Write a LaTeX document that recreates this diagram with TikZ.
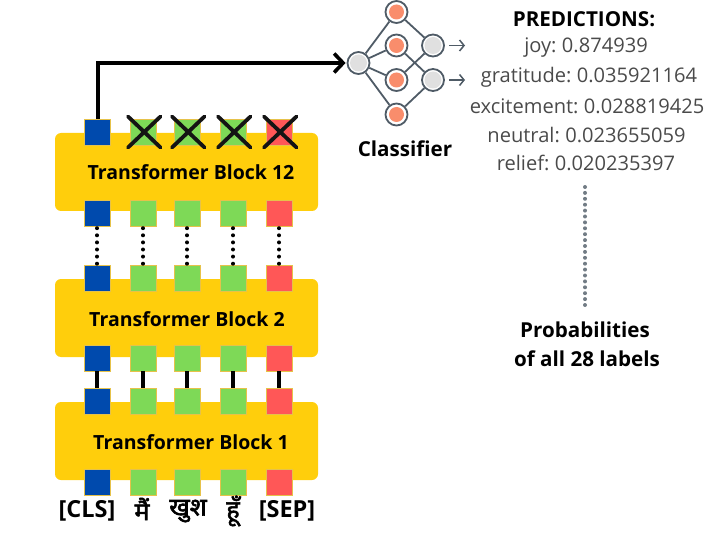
\documentclass[tikz,border=0pt]{standalone}
\usepackage{fontspec}
\setmainfont{Open Sans}
\newfontfamily\devafont[Script=Devanagari,FakeBold=2.2]{Noto Sans}
\newfontfamily\predfont[WordSpace=0.7]{Open Sans}
\usetikzlibrary{arrows.meta,calc}
\definecolor{blk}{HTML}{FFCE0C}
\definecolor{sqblue}{HTML}{004AAD}
\definecolor{sqgreen}{HTML}{7ED957}
\definecolor{sqred}{HTML}{FF5757}
\definecolor{sqedge}{HTML}{E6C24A}
\definecolor{net}{HTML}{4F5B66}
\definecolor{netorange}{HTML}{F98D6C}
\definecolor{netgray}{HTML}{E0E0E0}
\definecolor{txtgray}{HTML}{4A4A4A}
\tikzset{
  x=1pt,y=-1pt,
  blockbox/.style={fill=blk,rounded corners=6pt,minimum width=263pt,minimum height=78pt,inner sep=0pt,anchor=center},
  blocklabel/.style={font=\bfseries\fontsize{19.5}{22}\selectfont,text=black,inner sep=0pt},
  sq/.style={minimum size=26pt,inner sep=0pt,draw=sqedge,line width=.4pt},
  sqb/.style={sq,fill=sqblue},
  sqg/.style={sq,fill=sqgreen},
  sqr/.style={sq,fill=sqred},
  solidlink/.style={draw=black,line width=3.2pt},
  dotlink/.style={draw=black,line width=4pt,line cap=round,dash pattern=on 0pt off 7.1pt},
  crossline/.style={draw=black!92,line width=3.8pt,line cap=round},
  mainarrow/.style={draw=black,line width=3.6pt,-{Straight Barb[length=9pt,width=19pt,line width=3.6pt]}},
  netedge/.style={draw=net,line width=1.8pt},
  netnodeo/.style={circle,draw=net,line width=1.8pt,fill=white,minimum size=22pt,inner sep=0pt,path picture={\fill[netorange] (path picture bounding box.center) circle[radius=7.5pt];}},
  netnodeg/.style={circle,draw=net,line width=1.8pt,fill=white,minimum size=22pt,inner sep=0pt,path picture={\fill[netgray] (path picture bounding box.center) circle[radius=8.5pt];}},
  netout/.style={draw=net,line width=1.5pt,-{Straight Barb[length=4.5pt,width=11pt,line width=1.5pt]}},
  predtext/.style={font=\predfont\fontsize{20.1}{22}\selectfont,text=txtgray,inner sep=0pt},
  boldtext/.style={font=\bfseries\fontsize{20.6}{24}\selectfont,text=black,inner sep=0pt},
  toklabel/.style={font=\bfseries\fontsize{23.5}{26}\selectfont,text=black,inner sep=0pt},
  devlabel/.style={font=\devafont\fontsize{25}{28}\selectfont,text=black,inner sep=0pt},
  graydots/.style={draw=net!80,line width=4pt,line cap=round,dash pattern=on 0pt off 5.9pt},
}
\begin{document}
\begin{tikzpicture}
\useasboundingbox (0,0) rectangle (720,540);
% blocks
\node[blockbox] (b12) at (186.5,172) {};
\node[blockbox] (b2) at (186.5,318) {};
\node[blockbox] (b1) at (186.5,441) {};
\node[blocklabel] (t12) at (191,172) {Transformer Block 12};
\node[blocklabel] (t2) at (187,319) {Transformer Block 2};
\node[blocklabel] (t1) at (191,442) {Transformer Block 1};
% squares
\foreach \r/\y in {a/132,b/213,c/278,d/358,e/401,f/482}{
  \node[sqb] (\r1) at (97,\y) {};
  \node[sqg] (\r2) at (143,\y) {};
  \node[sqg] (\r3) at (187,\y) {};
  \node[sqg] (\r4) at (233,\y) {};
  \node[sqr] (\r5) at (279,\y) {};
}
% links between squares
\foreach \c in {1,...,5}{
  \draw[dotlink] ($(b\c.south)+(0,2)$) -- (c\c.north);
  \draw[solidlink] (d\c.south) -- (e\c.north);
}
% crosses on discarded outputs
\foreach \c in {2,...,5}{
  \draw[crossline] ($(a\c.center)+(-15,-15.5)$) -- ($(a\c.center)+(17.5,15.5)$);
  \draw[crossline] ($(a\c.center)+(17.5,-15.5)$) -- ($(a\c.center)+(-15,15.5)$);
}
% classifier network
\node[netnodeg] (in) at (358.5,63) {};
\node[netnodeo] (h1) at (396.5,12) {};
\node[netnodeo] (h2) at (396.5,45.5) {};
\node[netnodeo] (h3) at (396.5,80) {};
\node[netnodeo] (h4) at (396.5,114.5) {};
\node[netnodeg] (o1) at (433,45.5) {};
\node[netnodeg] (o2) at (433,80) {};
\foreach \h in {h1,h2,h3,h4} \draw[netedge] (in) -- (\h);
\draw[netedge] (h1) -- (o1);
\draw[netedge] (h2) -- (o2);
\draw[netedge] (h3) -- (o1);
\draw[netedge] (h4) -- (o2);
\coordinate (e1s) at (449,45.5); \coordinate (e1e) at (465,45.5);
\coordinate (e2s) at (449,80); \coordinate (e2e) at (465,80);
\draw[netout] (e1s) -- (e1e);
\draw[netout] (e2s) -- (e2e);
% main arrow
\draw[mainarrow,shorten >=1pt] ($(a1.north)+(1,0)$) |- (in.west);
\node[boldtext] (cl) at (405,149) {Classifier};
% predictions
\node[boldtext] (p0) at (584,19) {PREDICTIONS:};
\node[predtext] (p1) at (586,48) {joy: 0.874939};
\node[predtext] (p2) at (589,77) {gratitude: 0.035921164};
\node[predtext] (p3) at (587,106) {excitement: 0.028819425};
\node[predtext] (p4) at (586.5,135) {neutral: 0.023655059};
\node[predtext] (p5) at (586,163) {relief: 0.020235397};
\node[boldtext] (q1) at (585,330) {Probabilities};
\node[boldtext] (q2) at (587,359) {of all 28 labels};
\coordinate (ds) at (585,187); \coordinate (de) at (585,305);
\draw[graydots] (ds) -- (de);
% token labels
\node[toklabel] (l1) at (87,511) {[CLS]};
\node[devlabel] (l2) at (142,509) {मैं};
\node[devlabel] (l3) at (188,511) {खुश};
\node[devlabel] (l4) at (233,511) {हूँ};
\node[toklabel] (l5) at (287,511) {[SEP]};
\end{tikzpicture}
\end{document}
